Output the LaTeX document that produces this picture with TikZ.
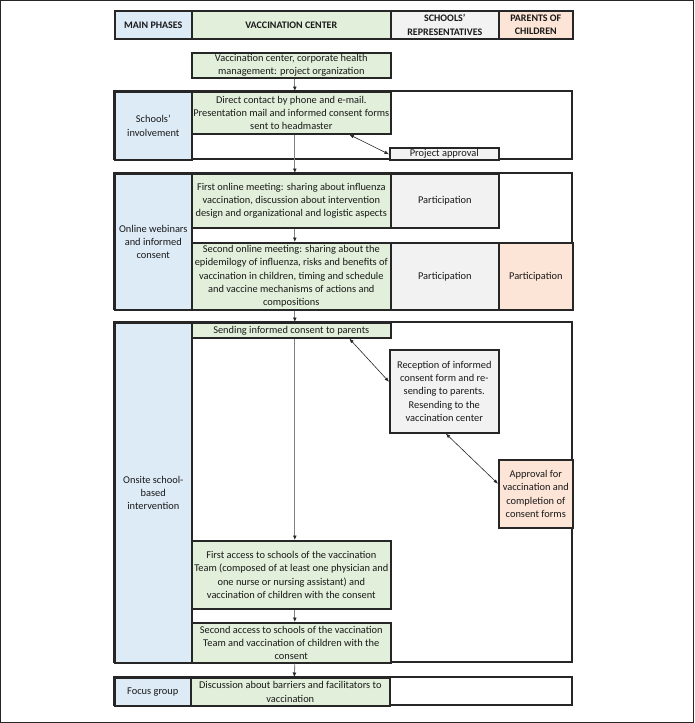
\documentclass[tikz,border=0pt]{standalone}
\usepackage{fontspec}
\setmainfont{Carlito}
\usetikzlibrary{arrows.meta}
\definecolor{phaseblue}{HTML}{DDEBF7}
\definecolor{centergreen}{HTML}{E2EFDA}
\definecolor{schoolgray}{HTML}{F2F2F2}
\definecolor{parentpink}{HTML}{FCE4D6}

\begin{document}
\begin{tikzpicture}[x=1pt,y=-1pt]

\tikzset{mycell/.style={draw=black!85, line width=1.6pt, anchor=north west, inner sep=1pt, align=center, text=black!90, font=\fontsize{10.4}{13.3}\selectfont}}
\tikzset{myhead/.style={mycell, font=\fontsize{10}{13.3}\selectfont\bfseries}}
\tikzset{myphase/.style={mycell, fill=phaseblue}}
\tikzset{mycenter/.style={mycell, fill=centergreen}}
\tikzset{myschool/.style={mycell, fill=schoolgray}}
\tikzset{myparent/.style={mycell, fill=parentpink}}
\tikzset{myframe/.style={draw=black!85, line width=1.6pt}}
\tikzset{myflow/.style={draw=gray, line width=0.9pt, -{Latex[length=4.5pt,width=4pt,color=black!85]}}}
\tikzset{mylink/.style={draw=black!85, line width=0.6pt, {Latex[length=4.5pt,width=3.5pt]}-{Latex[length=4.5pt,width=3.5pt]}}}

\useasboundingbox (0,0) rectangle (694,723);
\draw[black!85, line width=0.9pt] (0.5,0.5) rectangle (693.5,722.5);

\node[myhead, fill=phaseblue, minimum width=77pt, minimum height=28pt] (hphase) at (114,10) {MAIN PHASES};
\node[myhead, fill=centergreen, minimum width=199pt, minimum height=28pt] (hcenter) at (191,10) {VACCINATION CENTER};
\node[myhead, fill=schoolgray, minimum width=108pt, minimum height=28pt] (hschool) at (390,10) {SCHOOLS'\\REPRESENTATIVES};
\node[myhead, fill=parentpink, minimum width=74pt, minimum height=28pt] (hparent) at (498,10) {PARENTS OF\\CHILDREN};

\node[mycenter, minimum width=199pt, minimum height=25pt] (org) at (191,52) {Vaccination center, corporate health\\management: project organization};

\draw[myframe] (114,91) rectangle (572,159);
\node[myphase, minimum width=77pt, minimum height=68pt] (phase1) at (114,91) {Schools'\\involvement};
\node[mycenter, minimum width=199pt, minimum height=42pt] (contact) at (191,91) {Direct contact by phone and e-mail.\\Presentation mail and informed consent forms\\sent to headmaster};
\node[myschool, minimum width=109pt, minimum height=12pt, inner sep=0pt] (approval) at (389,147) {Project approval};

\draw[myframe] (114,173) rectangle (572,309);
\node[myphase, minimum width=77pt, minimum height=136pt] (phase2) at (114,173) {Online webinars\\and informed\\consent};
\node[mycenter, minimum width=199pt, minimum height=54pt] (meet1) at (191,173) {First online meeting: sharing about influenza\\vaccination, discussion about intervention\\design and organizational and logistic aspects};
\node[myschool, minimum width=108pt, minimum height=54pt] (part1) at (390,173) {Participation};
\node[mycenter, minimum width=199pt, minimum height=67pt] (meet2) at (191,242) {Second online meeting: sharing about the\\epidemilogy of influenza, risks and benefits of\\vaccination in children, timing and schedule\\and vaccine mechanisms of actions and\\compositions};
\node[myschool, minimum width=108pt, minimum height=67pt] (part2) at (390,242) {Participation};
\node[myparent, minimum width=74pt, minimum height=67pt] (part3) at (498,242) {Participation};

\draw[myframe] (114,322) rectangle (572,662);
\node[myphase, minimum width=77pt, minimum height=340pt] (phase3) at (114,322) {Onsite school-\\based\\intervention};
\node[mycenter, minimum width=199pt, minimum height=15pt, inner sep=0pt] (send) at (191,322) {Sending informed consent to parents};
\node[myschool, minimum width=109pt, minimum height=83pt] (reception) at (389,349) {Reception of informed\\consent form and re-\\sending to parents.\\Resending to the\\vaccination center};
\node[myparent, minimum width=74pt, minimum height=68pt] (consent) at (498,459) {Approval for\\vaccination and\\completion of\\consent forms};
\node[mycenter, minimum width=199pt, minimum height=68pt] (access1) at (191,540) {First access to schools of the vaccination\\Team (composed of at least one physician and\\one nurse or nursing assistant) and\\vaccination of children with the consent};
\node[mycenter, minimum width=199pt, minimum height=40pt, inner sep=0pt] (access2) at (191,622) {Second access to schools of the vaccination\\Team and vaccination of children with the\\consent};

\draw[myframe] (114,677) rectangle (572,705);
\node[myphase, minimum width=76pt, minimum height=28pt] (phase4) at (114,677) {Focus group};
\node[mycenter, minimum width=199pt, minimum height=28pt] (discuss) at (190,677) {Discussion about barriers and facilitators to\\vaccination};

\draw[myflow] ([xshift=3.5pt]org.south) -- ([xshift=3.5pt]contact.north);
\draw[myflow] ([xshift=3.5pt]contact.south) -- ([xshift=3.5pt]meet1.north);
\draw[myflow] ([xshift=3.5pt]meet1.south) -- ([xshift=3.5pt]meet2.north);
\draw[myflow] ([xshift=3.5pt]meet2.south) -- ([xshift=3.5pt]send.north);
\draw[myflow] ([xshift=3.5pt]send.south) -- ([xshift=3.5pt]access1.north);
\draw[myflow] ([xshift=3.5pt]access1.south) -- ([xshift=3.5pt]access2.north);
\draw[myflow] ([xshift=3.5pt]access2.south) -- ([xshift=4pt]discuss.north);

\draw[mylink] ([xshift=58pt]contact.south) -- ([yshift=-0.5pt]approval.west);
\draw[mylink] ([xshift=58pt]send.south) -- ([yshift=9.5pt]reception.west);
\draw[mylink] ([xshift=1.5pt]reception.south) -- ([yshift=10pt]consent.west);

\end{tikzpicture}
\end{document}
